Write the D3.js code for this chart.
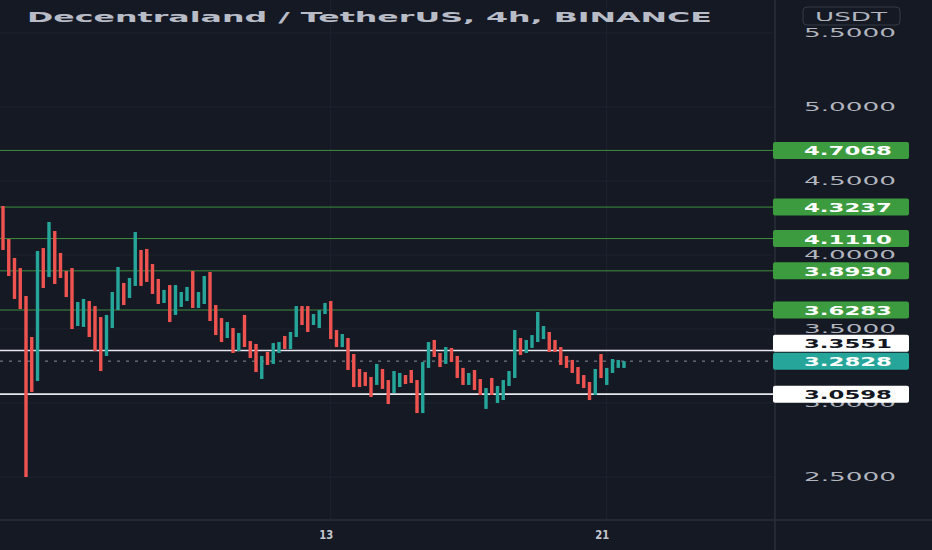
<!DOCTYPE html>
<html>
<head>
<meta charset="utf-8">
<script src="https://cdn.jsdelivr.net/npm/d3@7"></script>
<style>
  html, body { margin: 0; padding: 0; background: #151924; }
  svg { display: block; }
</style>
</head>
<body>
<svg id="drawing_region"></svg>
<script>
// 4h candles, first one at 3 Dec 12:00 UTC
const opens = [4.331,4.108,3.980,3.912,3.723,3.446,3.149,4.047,3.851,4.162,
  4.014,3.892,3.912,3.520,3.514,3.689,3.655,3.581,3.318,3.507,
  3.628,3.811,3.709,3.791,4.034,4.041,3.939,3.838,3.676,3.797,
  3.595,3.649,3.689,3.892,3.642,3.669,3.885,3.662,3.574,3.439,
  3.507,3.351,3.595,3.419,3.399,3.162,3.345,3.264,3.338,3.453,
  3.365,3.446,3.655,3.655,3.527,3.507,3.601,3.689,3.493,3.378,
  3.439,3.331,3.230,3.209,3.176,3.122,3.230,3.155,3.068,3.108,
  3.189,3.223,3.155,2.932,3.237,3.426,3.338,3.264,3.372,3.318,
  3.237,3.122,3.223,3.162,2.960,3.169,3.000,3.020,3.115,3.169,
  3.439,3.338,3.372,3.412,3.432,3.480,3.426,3.378,3.318,3.291,
  3.243,3.189,3.142,3.054,3.331,3.122,3.203,3.237,3.237];
const closes = [4.034,3.858,3.703,3.635,2.500,3.074,4.027,3.777,4.223,3.804,
  3.845,3.716,3.500,3.682,3.703,3.446,3.351,3.216,3.595,3.750,
  3.919,3.662,3.845,4.155,3.791,3.818,3.737,3.669,3.764,3.547,
  3.797,3.750,3.784,3.642,3.750,3.858,3.554,3.459,3.412,3.547,
  3.338,3.473,3.378,3.304,3.209,3.318,3.257,3.405,3.412,3.365,
  3.480,3.655,3.527,3.480,3.601,3.628,3.676,3.432,3.378,3.466,
  3.223,3.108,3.108,3.115,3.041,3.264,3.095,2.993,3.216,3.203,
  3.128,3.135,2.932,3.277,3.412,3.311,3.243,3.378,3.277,3.169,
  3.122,3.203,3.088,3.054,3.101,3.054,3.115,3.155,3.216,3.493,
  3.324,3.426,3.459,3.615,3.520,3.345,3.345,3.257,3.237,3.203,
  3.128,3.101,3.020,3.230,3.169,3.237,3.297,3.291,3.283];

const greenLevels = [4.7068, 4.3237, 4.1110, 3.8930, 3.6283];
const whiteLevels = [3.3551, 3.0598];
const lastPrice = 3.2828;
const priceTicks = [2.5, 3.0, 3.5, 4.0, 4.5, 5.0, 5.5];
const dayTicks = ['2021-12-13', '2021-12-21'];
const title = 'Decentraland / TetherUS, 4h, BINANCE';
const currency = 'USDT';

const HOUR = 3600 * 1000;
const startTime = Date.UTC(2021, 11, 3, 12);
const data = opens.map((o, i) => ({
    time: new Date(startTime + i * 4 * HOUR),
    open: o,
    close: closes[i]
}));

const config = {
    parent: '#drawing_region',
    width: 932,
    height: 550,
    paneRight: 775,
    paneBottom: 520,
    up: '#26a69a',
    down: '#ef5350',
    grid: '#1f2330',
    text: '#b2b5be'
};

const svg = d3.select(config.parent)
    .attr('width', config.width)
    .attr('height', config.height);

svg.append('rect')
    .attr('width', config.width)
    .attr('height', config.height)
    .attr('fill', '#151924');

// scales: 5.75px per 4h candle, 148px per 1 USDT
const xscale = d3.scaleUtc()
    .domain([startTime, startTime + 134 * 4 * HOUR])
    .range([3, 3 + 134 * 5.75]);

const yscale = d3.scaleLinear()
    .domain([2.5, 5.5])
    .range([477, 33]);

// grid
const grid = svg.append('g');
grid.selectAll('.hgrid')
    .data(priceTicks)
    .join('line')
    .attr('x1', 0).attr('x2', config.paneRight)
    .attr('y1', d => yscale(d)).attr('y2', d => yscale(d))
    .attr('stroke', config.grid);

grid.selectAll('.vgrid')
    .data(dayTicks.map(d => new Date(d + 'T00:00:00Z')))
    .join('line')
    .attr('x1', d => xscale(d)).attr('x2', d => xscale(d))
    .attr('y1', 0).attr('y2', config.paneBottom)
    .attr('stroke', config.grid);

// level lines
svg.append('g').selectAll('line')
    .data(greenLevels)
    .join('line')
    .attr('x1', 0).attr('x2', config.paneRight)
    .attr('y1', d => yscale(d)).attr('y2', d => yscale(d))
    .attr('stroke', '#3f8f3c')
    .attr('stroke-width', 1);

svg.append('g').selectAll('line')
    .data(whiteLevels)
    .join('line')
    .attr('x1', 0).attr('x2', config.paneRight)
    .attr('y1', d => yscale(d)).attr('y2', d => yscale(d))
    .attr('stroke', '#e6e8ee')
    .attr('stroke-width', 1.6);

svg.append('line')
    .attr('x1', 0).attr('x2', config.paneRight)
    .attr('y1', yscale(lastPrice)).attr('y2', yscale(lastPrice))
    .attr('stroke', '#8a8e99')
    .attr('stroke-width', 1)
    .attr('stroke-dasharray', '3,6');

// candles
svg.append('g').selectAll('rect')
    .data(data)
    .join('rect')
    .attr('x', d => xscale(d.time) - 1.7)
    .attr('width', 3.4)
    .attr('y', d => yscale(Math.max(d.open, d.close)))
    .attr('height', d => Math.max(1, Math.abs(yscale(d.open) - yscale(d.close))))
    .attr('fill', d => d.close >= d.open ? config.up : config.down);

// pane borders
svg.append('line')
    .attr('x1', config.paneRight).attr('x2', config.paneRight)
    .attr('y1', 0).attr('y2', config.height)
    .attr('stroke', '#2a2e39').attr('stroke-width', 1.5);
svg.append('line')
    .attr('x1', 0).attr('x2', config.width)
    .attr('y1', config.paneBottom).attr('y2', config.paneBottom)
    .attr('stroke', '#2a2e39').attr('stroke-width', 1.5);

// price axis
const yaxis = d3.axisRight(yscale)
    .tickValues(priceTicks)
    .tickFormat(d3.format('.4f'))
    .tickSize(0)
    .tickPadding(29);

const yaxis_group = svg.append('g')
    .attr('transform', `translate(${config.paneRight}, 0)`)
    .call(yaxis);
yaxis_group.select('.domain').remove();
yaxis_group.selectAll('text')
    .attr('fill', config.text)
    .attr('font-family', 'DejaVu Sans')
    .attr('font-size', 12)
    .attr('textLength', 92)
    .attr('lengthAdjust', 'spacingAndGlyphs');

// time axis
const xaxis = d3.axisBottom(xscale)
    .tickValues(dayTicks.map(d => new Date(d + 'T00:00:00Z')))
    .tickFormat(d3.utcFormat('%-d'))
    .tickSize(0)
    .tickPadding(10);

const xaxis_group = svg.append('g')
    .attr('transform', `translate(-5, ${config.paneBottom})`)
    .call(xaxis);
xaxis_group.select('.domain').remove();
xaxis_group.selectAll('text')
    .attr('fill', '#c3c6ce')
    .attr('font-family', 'DejaVu Sans')
    .attr('font-weight', 'bold')
    .attr('font-size', 13)
    .attr('textLength', 14)
    .attr('lengthAdjust', 'spacingAndGlyphs');

// price labels on the axis, pushed apart when they collide
const labels = greenLevels.map(v => ({ value: v, fill: '#3c9b3f', color: '#ffffff' }))
    .concat(whiteLevels.map(v => ({ value: v, fill: '#ffffff', color: '#131722' })))
    .concat([{ value: lastPrice, fill: config.up, color: '#ffffff', last: true }]);
labels.forEach(d => d.y = yscale(d.value));
labels.sort((a, b) => b.y - a.y);
for (let i = 1; i < labels.length; i++) {
    const gap = labels[i - 1].y - labels[i].y;
    if (gap < 18) {
        if (labels[i].last) labels[i - 1].y = labels[i].y + 18;
        else labels[i].y = labels[i - 1].y - 18;
    }
}

const label_group = svg.append('g').selectAll('g')
    .data(labels)
    .join('g')
    .attr('transform', d => `translate(${config.paneRight - 2}, ${d.y})`);

label_group.append('rect')
    .attr('x', 0).attr('y', -8.5)
    .attr('width', 136).attr('height', 17)
    .attr('rx', 2)
    .attr('fill', d => d.fill);

label_group.append('text')
    .attr('x', 31).attr('y', 5)
    .attr('fill', d => d.color)
    .attr('font-family', 'DejaVu Sans')
    .attr('font-weight', 'bold')
    .attr('font-size', 13)
    .attr('textLength', 88)
    .attr('lengthAdjust', 'spacingAndGlyphs')
    .text(d => d3.format('.4f')(d.value));

// currency badge
svg.append('rect')
    .attr('x', 803).attr('y', 7)
    .attr('width', 97).attr('height', 18)
    .attr('rx', 4)
    .attr('fill', 'none')
    .attr('stroke', '#363a45');
svg.append('text')
    .attr('x', 851).attr('y', 21)
    .attr('text-anchor', 'middle')
    .attr('fill', config.text)
    .attr('font-family', 'DejaVu Sans')
    .attr('font-size', 12)
    .attr('textLength', 72)
    .attr('lengthAdjust', 'spacingAndGlyphs')
    .text(currency);

// title
svg.append('text')
    .attr('x', 27).attr('y', 22)
    .attr('fill', '#b8bcc6')
    .attr('font-family', 'DejaVu Sans')
    .attr('font-weight', 'bold')
    .attr('font-size', 14)
    .attr('textLength', 685)
    .attr('lengthAdjust', 'spacingAndGlyphs')
    .text(title);
</script>
</body>
</html>
